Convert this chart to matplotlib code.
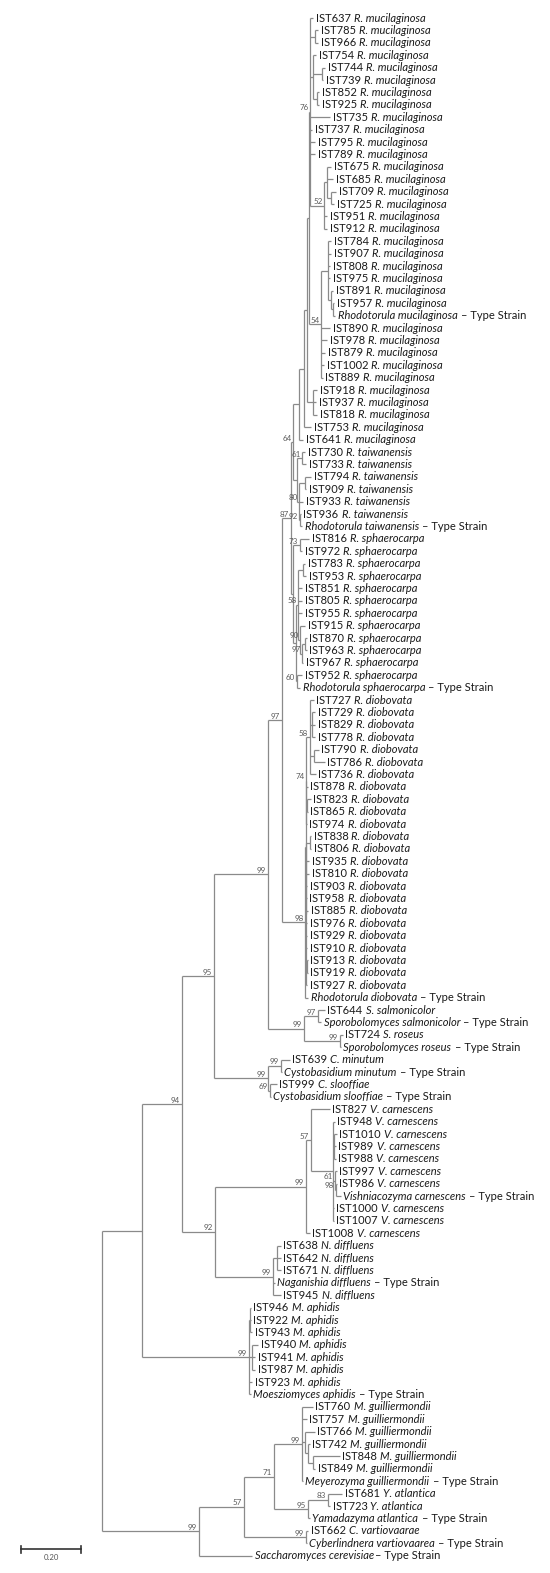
import re
import matplotlib
matplotlib.use("Agg")
import matplotlib.pyplot as plt
from matplotlib.collections import LineCollection

# ---------------------------------------------------------------------------
# tree data (Newick pieces, branch lengths in substitutions per site,
# bootstrap values written after the closing bracket of a clade)
# ---------------------------------------------------------------------------
MUC_N76 = ("(IST637:0.010,(IST785:0.010,IST966:0.010):0.017,"
           "(IST754:0.010,(IST744:0.010,IST739:0.003):0.030,(IST852:0.007,IST925:0.007):0.013):0.010,"
           "IST735:0.067,IST737:0.007,IST795:0.017,IST789:0.017,"
           "((IST675:0.013,IST685:0.020,(IST709:0.017,IST725:0.010):0.013):0.010,"
           "IST951:0.010,IST912:0.010)52:0.047)76")
MUC_N54 = ("((IST784:0.010,IST907:0.010,IST808:0.007,IST975:0.007,"
           "(IST891:0.007,(IST957:0.003,T_Rmuc:0.007):0.007):0.010):0.023,"
           "IST890:0.030,IST978:0.020,IST879:0.013,IST1002:0.010,IST889:0.005)54")
MUC_N918 = "(IST918:0.013,IST937:0.010,IST818:0.013)"
MUCILAGINOSA = (f"(((({MUC_N76}:0.003,{MUC_N54}:0.040):0.007,{MUC_N918}:0.020):0.010,"
                f"IST753:0.023):0.017,IST641:0.013)")

TAIWANENSIS = ("((IST730:0.010,IST733:0.013)61:0.017,((IST794:0.020,IST909:0.003):0.020,"
               "IST933:0.013,(IST936:0.003,T_Rtai:0.007)92:0.003)80:0.007)")

SPHAEROCARPA = ("((IST816:0.030,IST972:0.007)73:0.023,(((IST783:0.007,IST953:0.010):0.017,"
                "IST851:0.013,IST805:0.013,IST955:0.013,(IST915:0.017,((IST870:0.007,"
                "IST963:0.007):0.007,IST967:0.003)97:0.007)90:0.007)58:0.007,"
                "(IST952:0.017,T_Rsph:0.010)60:0.003):0.010)")

DIOBOVATA = ("((((IST727:0.013,(IST729:0.010,IST829:0.010,IST778:0.010):0.007,"
             "(IST790:0.017,IST786:0.037):0.013,IST736:0.020)58:0.012,IST878:0.005,"
             "(IST823:0.012,IST865:0.002):0.003,IST974:0.002)74:0.002,"
             "((IST838:0.003,IST806:0.003):0.013,IST935:0.010,IST810:0.010,IST903:0.003,"
             "IST958:0.002,IST885:0.007,IST976:0.003,IST929:0.003,IST910:0.003,"
             "(IST913:0.002,IST919:0.002):0.002,IST927:0.003):0.002):0.002,T_Rdio:0.010)98")

SALMONICOLOR = "(IST644:0.023,T_Ssal:0.010)97"
ROSEUS = "(IST724:0.010,T_Sros:0.003)99"
MINUTUM = "(IST639:0.030,T_Cmin:0.003)99"
SLOOFFIAE = "(IST999:0.023,T_Cslo:0.002)69"

CARNESCENS = ("((IST827:0.063,(IST948:0.007,(IST1010:0.010,IST989:0.007,IST988:0.007):0.003,"
              "(IST997:0.007,(IST986:0.003,T_Vcar:0.017)98:0.003)61:0.007,"
              "IST1000:0.003,IST1007:0.003):0.073)57:0.017,IST1008:0.013)99")
DIFFLUENS = "((IST638:0.013,IST642:0.013,IST671:0.013):0.013,T_Ndif:0.007,IST945:0.027)99"
APHIDIS = ("((IST946:0.003,IST922:0.002,IST943:0.008):0.003,"
           "(IST940:0.020,IST941:0.010,IST987:0.010):0.010,IST923:0.010,T_Maph:0.005)99")
GUILLIERMONDII = ("(IST760:0.037,IST757:0.017,(IST766:0.033,(IST742:0.007,"
                  "(IST848:0.090,IST849:0.007):0.017):0.010):0.010,T_Mgui:0.003)99")
ATLANTICA = "((IST681:0.047,IST723:0.007)83:0.067,T_Yatl:0.007)95"
VARTIOVAARAE = "(IST662:0.007,T_Cvar:0.002)99"

TREE = (f"(((((((({MUCILAGINOSA}:0.020,{TAIWANENSIS}:0.013)64:0.007,{SPHAEROCARPA}:0.007)87:0.030,"
        f"{DIOBOVATA}:0.077)97:0.047,({SALMONICOLOR}:0.047,{ROSEUS}:0.120)99:0.120)99:0.180,"
        f"({MINUTUM}:0.043,{SLOOFFIAE}:0.007)99:0.180)95:0.107,"
        f"({CARNESCENS}:0.303,{DIFFLUENS}:0.193)92:0.110)94:0.133,{APHIDIS}:0.357):0.133,"
        f"((({GUILLIERMONDII}:0.093,{ATLANTICA}:0.113)71:0.100,{VARTIOVAARAE}:0.207)57:0.150,"
        f"T_Scer:0.177)99:0.323)")

SPECIES = [
    ("R. mucilaginosa", MUCILAGINOSA), ("R. taiwanensis", TAIWANENSIS),
    ("R. sphaerocarpa", SPHAEROCARPA), ("R. diobovata", DIOBOVATA),
    ("S. salmonicolor", SALMONICOLOR), ("S. roseus", ROSEUS),
    ("C. minutum", MINUTUM), ("C. slooffiae", SLOOFFIAE),
    ("V. carnescens", CARNESCENS), ("N. diffluens", DIFFLUENS),
    ("M. aphidis", APHIDIS), ("M. guilliermondii", GUILLIERMONDII),
    ("Y. atlantica", ATLANTICA), ("C. vartiovaarae", VARTIOVAARAE),
]

TYPE_STRAINS = {
    "T_Rmuc": "Rhodotorula mucilaginosa", "T_Rtai": "Rhodotorula taiwanensis",
    "T_Rsph": "Rhodotorula sphaerocarpa", "T_Rdio": "Rhodotorula diobovata",
    "T_Ssal": "Sporobolomyces salmonicolor", "T_Sros": "Sporobolomyces roseus",
    "T_Cmin": "Cystobasidium minutum", "T_Cslo": "Cystobasidium slooffiae",
    "T_Vcar": "Vishniacozyma carnescens", "T_Ndif": "Naganishia diffluens",
    "T_Maph": "Moesziomyces aphidis", "T_Mgui": "Meyerozyma guilliermondii",
    "T_Yatl": "Yamadazyma atlantica", "T_Cvar": "Cyberlindnera vartiovaarea",
    "T_Scer": "Saccharomyces cerevisiae",
}

SCALE_LEN = 0.20

# ---------------------------------------------------------------------------
species_of = {}
for sp, nw in SPECIES:
    for iso in re.findall(r"IST\d+", nw):
        species_of[iso] = sp


def parse_newick(s):
    pos = 0

    def node():
        nonlocal pos
        children = []
        if s[pos] == "(":
            pos += 1
            while True:
                children.append(node())
                if s[pos] == ",":
                    pos += 1
                    continue
                pos += 1  # ')'
                break
        name = re.match(r"[^:,()]*", s[pos:]).group(0)
        pos += len(name)
        length = 0.0
        if pos < len(s) and s[pos] == ":":
            m = re.match(r":([0-9.]+)", s[pos:])
            length = float(m.group(1))
            pos += len(m.group(0))
        return {"name": name, "len": length, "children": children}

    return node()


tips = []


def layout(n, x0):
    n["x"] = x0 + n["len"]
    if n["children"]:
        for c in n["children"]:
            layout(c, n["x"])
        n["y"] = (n["children"][0]["y"] + n["children"][-1]["y"]) / 2.0
    else:
        n["y"] = len(tips)
        tips.append(n)


root = parse_newick(TREE)
layout(root, 0.0)

segs = []
boot = []


def collect(n):
    if not n["children"]:
        return
    ys = [c["y"] for c in n["children"]]
    segs.append([(n["x"], ys[0]), (n["x"], ys[-1])])
    for c in n["children"]:
        segs.append([(n["x"], c["y"]), (c["x"], c["y"])])
        collect(c)
    if n["name"]:
        boot.append((n["x"], n["y"], n["name"]))


collect(root)

plt.rcParams["font.family"] = ["Lato", "DejaVu Sans"]
LINE = "#8a8a8a"
TXT = "#1a1a1a"
FS = 8.0

fig = plt.figure(figsize=(5.5, 15.73), dpi=100)
ax = fig.add_axes([0, 0, 1, 1])
ax.set_xlim(-0.34, 1.4933)
ax.set_ylim(125.4, -1.452)
ax.axis("off")

ax.add_collection(LineCollection(segs, colors=LINE, linewidths=0.9, capstyle="butt"))

for x, y, b in boot:
    ax.annotate(b, (x, y), xytext=(-1.2, 0.3), textcoords="offset points",
                ha="right", va="bottom", fontsize=5.8, color="#5a5a5a")

for t in tips:
    nm = t["name"]
    if nm.startswith("T_"):
        first, second = TYPE_STRAINS[nm], "– Type Strain"
        st1, st2 = "italic", "normal"
        gap = 0.6 if nm == "T_Scer" else 2.4
    else:
        first, second = nm, species_of[nm]
        st1, st2 = "normal", "italic"
        gap = 2.2
    t1 = ax.annotate(first, (t["x"], t["y"]), xytext=(1.8, 0), textcoords="offset points",
                     ha="left", va="center", fontsize=FS, style=st1, color=TXT)
    ax.annotate(second, xy=(1, 0), xycoords=t1, xytext=(gap, 0), textcoords="offset points",
                ha="left", va="bottom", fontsize=FS, style=st2, color=TXT)

# scale bar
sx0, sy = -0.27, 123.5
ax.plot([sx0, sx0 + SCALE_LEN], [sy, sy], color="#333333", lw=1.2)
for xx in (sx0, sx0 + SCALE_LEN):
    ax.plot([xx, xx], [sy - 0.28, sy + 0.28], color="#333333", lw=1.2)
ax.text(sx0 + SCALE_LEN / 2, sy + 0.35, f"{SCALE_LEN:.2f}", ha="center", va="top",
        fontsize=5.6, color="#555555")

fig.savefig("out.png", dpi=100)
